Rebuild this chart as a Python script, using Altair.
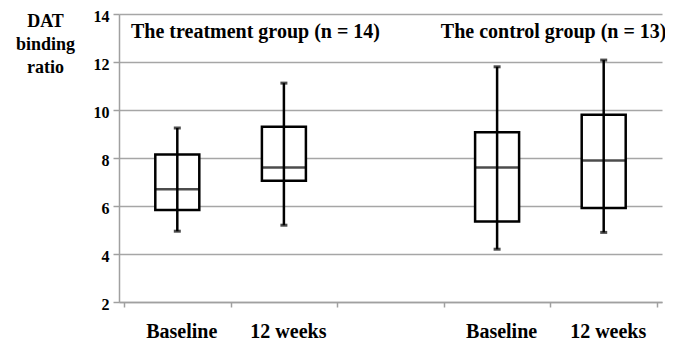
import altair as alt
import pandas as pd

# x slots along the axis ("" = empty gap between the two groups)
slots = ["Baseline", "12 weeks", "", "Baseline", "12 weeks"]

# boxes: slot index, group
box_slot = [0, 1, 3, 4]
box_group = ["treatment", "treatment", "control", "control"]
whisk_low = [4.95, 5.2, 4.2, 4.9]
q1 = [5.83, 7.05, 5.35, 5.92]
median = [6.7, 7.6, 7.6, 7.9]
q3 = [8.15, 9.3, 9.07, 9.8]
whisk_high = [9.25, 11.12, 11.8, 12.08]

group_names = ["treatment", "control"]
group_titles = ["The treatment group (n = 14)", "The control group (n = 13)"]
group_start_slot = [0, 3]

y_ticks = [2, 4, 6, 8, 10, 12, 14]
y_title = ["DAT", "binding", "ratio"]

FONT = "Liberation Serif"

boxes = pd.DataFrame({
    "pos": [s + 0.5 for s in box_slot],
    "group": box_group,
    "low": whisk_low,
    "q1": q1,
    "median": median,
    "q3": q3,
    "high": whisk_high,
})
titles = pd.DataFrame({"group": group_names, "title": group_titles, "start": group_start_slot})

# x axis: ticks at slot boundaries, labels at slot centres
label_positions = [i + 0.5 for i, s in enumerate(slots) if s]
tick_positions = list(range(len(slots) + 1))
expr = "''"
for i, s in reversed(list(enumerate(slots))):
    if s:
        expr = f"datum.value == {i + 0.5} ? '{s}' : " + expr

x_scale = alt.Scale(domain=[0, len(slots)], nice=False, zero=False)
y_scale = alt.Scale(domain=[2, 14], nice=False, zero=False)

x_axis = alt.Axis(
    values=sorted(tick_positions + label_positions),
    labelExpr=expr,
    title=None,
    grid=False,
    tickSize=5,
    tickOpacity={"condition": {"test": "datum.value % 1 === 0", "value": 1}, "value": 0},
    labelFont=FONT,
    labelFontWeight="bold",
    labelFontSize=20,
    labelPadding=14,
    labelOffset=4,
    labelFlush=False,
    labelOverlap=False,
)
y_axis = alt.Axis(
    values=y_ticks,
    title=y_title,
    titleFont=FONT,
    titleFontWeight="bold",
    titleAngle=0,
    titleX=-74,
    titleY=-2,
    titleAlign="center",
    titleBaseline="top",
    titleLineHeight=23,
    titleFontSize=18,
    grid=True,
    gridColor="#a6a6a6",
    gridWidth=1.6,
    tickSize=6,
    labelFont=FONT,
    labelFontWeight="bold",
    labelFontSize=16,
    labelPadding=4,
    labelOffset=2,
)

base = alt.Chart(boxes)

box = base.mark_bar(size=44, fill="white", stroke="black", strokeWidth=2.5).encode(
    x=alt.X("pos:Q", scale=x_scale, axis=x_axis),
    y=alt.Y("q1:Q", scale=y_scale, axis=y_axis),
    y2="q3:Q",
)
whisker = base.mark_rule(color="black", strokeWidth=2.5).encode(
    x="pos:Q", y="low:Q", y2="high:Q"
)
cap_low = base.mark_tick(orient="horizontal", size=7, thickness=3, color="black").encode(
    x="pos:Q", y="low:Q"
)
cap_high = base.mark_tick(orient="horizontal", size=7, thickness=3, color="black").encode(
    x="pos:Q", y="high:Q"
)
med = base.mark_tick(orient="horizontal", size=44, thickness=2.5, color="black").encode(
    x="pos:Q", y="median:Q"
)

tbase = alt.Chart(titles)
title_t = tbase.transform_filter(alt.datum.group == "treatment").mark_text(
    align="left", baseline="middle", dx=7, font=FONT, fontSize=20, fontWeight="bold", color="black"
).encode(x="start:Q", y=alt.value(18), text="title:N")
title_c = tbase.transform_filter(alt.datum.group == "control").mark_text(
    align="left", baseline="middle", dx=-3, font=FONT, fontSize=20, fontWeight="bold", color="black"
).encode(x="start:Q", y=alt.value(18), text="title:N")

chart = alt.layer(box, whisker, cap_low, cap_high, med, title_t, title_c).properties(
    width=543,
    height=288,
    padding={"left": 111, "top": 6, "right": 3, "bottom": 38},
    autosize=alt.AutoSizeParams(type="none"),
    background="white",
).configure(
    font=FONT,
    style={
        "guide-label": {"font": FONT, "fontWeight": "bold", "fill": "black"},
        "guide-title": {"font": FONT, "fontWeight": "bold", "fill": "black"},
    },
).configure_view(stroke=None).configure_axis(
    labelFont=FONT,
    labelFontWeight="bold",
    labelColor="black",
    titleFont=FONT,
    titleFontWeight="bold",
    titleColor="black",
    domainColor="#a0a0a0",
    domainWidth=1.5,
    tickColor="#a0a0a0",
    tickWidth=1.5,
)

chart.save("out.html", embed_options={"renderer": "svg", "actions": False})
